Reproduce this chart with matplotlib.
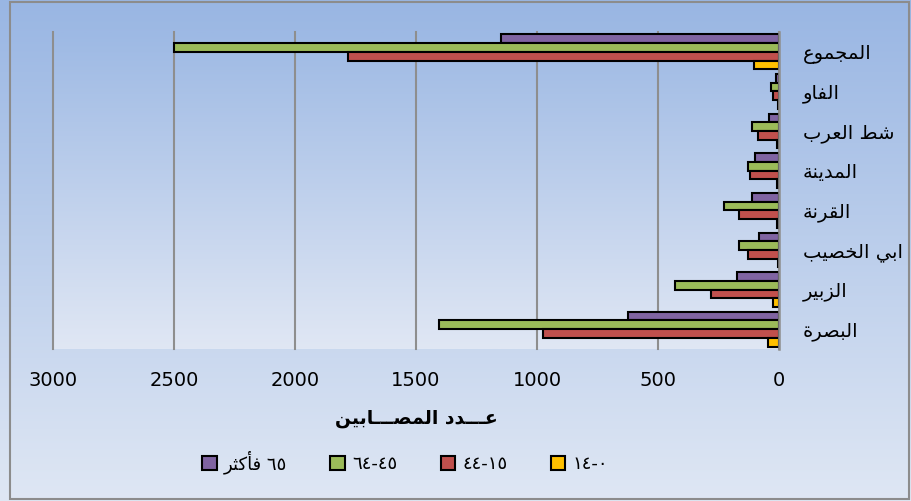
"""Injured counts by district and age group (Basra), horizontal bars, RTL layout."""

import re

import numpy as np
import matplotlib
matplotlib.use("Agg")
import matplotlib.pyplot as plt
from matplotlib.colors import LinearSegmentedColormap
from matplotlib.patches import Rectangle

# ---- data (categories bottom -> top) ----
districts = ["البصرة", "الزبير", "ابي الخصيب", "القرنة", "المدينة", "شط العرب", "الفاو", "المجموع"]
age_65_plus = [625, 175, 81, 113, 100, 41, 12, 1150]
age_45_64 = [1403, 428, 164, 226, 129, 113, 34, 2500]
age_15_44 = [974, 282, 129, 164, 121, 86, 25, 1781]
age_0_14 = [47, 26, 6, 8, 8, 7, 3, 105]
series_labels = ["٦٥ فأكثر", "٤٥-٦٤", "١٥-٤٤", "٠-١٤"]
x_ticks = [0, 500, 1000, 1500, 2000, 2500, 3000]
x_title = "عـــدد المصـــابين"

# ---- minimal arabic shaping (matplotlib has no complex text layout) ----
TATWEEL = "\u0640"


def _forms(start, n):
    return tuple(chr(start + k) for k in range(n))


FORMS = {
    "ا": _forms(0xFE8D, 2), "أ": _forms(0xFE83, 2), "إ": _forms(0xFE87, 2),
    "آ": _forms(0xFE81, 2), "ب": _forms(0xFE8F, 4), "ة": _forms(0xFE93, 2),
    "ت": _forms(0xFE95, 4), "ث": _forms(0xFE99, 4), "ج": _forms(0xFE9D, 4),
    "ح": _forms(0xFEA1, 4), "خ": _forms(0xFEA5, 4), "د": _forms(0xFEA9, 2),
    "ذ": _forms(0xFEAB, 2), "ر": _forms(0xFEAD, 2), "ز": _forms(0xFEAF, 2),
    "س": _forms(0xFEB1, 4), "ش": _forms(0xFEB5, 4), "ص": _forms(0xFEB9, 4),
    "ض": _forms(0xFEBD, 4), "ط": _forms(0xFEC1, 4), "ظ": _forms(0xFEC5, 4),
    "ع": _forms(0xFEC9, 4), "غ": _forms(0xFECD, 4), "ف": _forms(0xFED1, 4),
    "ق": _forms(0xFED5, 4), "ك": _forms(0xFED9, 4), "ل": _forms(0xFEDD, 4),
    "م": _forms(0xFEE1, 4), "ن": _forms(0xFEE5, 4), "ه": _forms(0xFEE9, 4),
    "و": _forms(0xFEED, 2), "ى": _forms(0xFEEF, 2), "ي": _forms(0xFEF1, 4),
}
DUAL = {c for c, f in FORMS.items() if len(f) == 4} | {TATWEEL}


def ar(text):
    """Shape arabic letters and return the string in visual (LTR) order."""
    out = []
    n = len(text)
    for i, c in enumerate(text):
        if c not in FORMS:
            out.append(c)
            continue
        f = FORMS[c]
        prev = i > 0 and text[i - 1] in DUAL
        nxt = len(f) == 4 and i + 1 < n and (text[i + 1] in FORMS or text[i + 1] == TATWEEL)
        if prev and nxt:
            out.append(f[3])
        elif prev:
            out.append(f[1])
        elif nxt:
            out.append(f[2])
        else:
            out.append(f[0])
    shaped = "".join(out)
    runs = re.findall(r"[0-9\u0660-\u0669]+|[^0-9\u0660-\u0669]+", shaped)
    runs = [r if re.match(r"[0-9\u0660-\u0669]", r) else r[::-1] for r in runs]
    return "".join(runs[::-1])


# ---- figure ----
W, H = 912, 501
fig = plt.figure(figsize=(W / 100, H / 100), dpi=100)

grad = np.linspace(0, 1, 256).reshape(-1, 1)
bg = fig.add_axes([0, 0, 1, 1], zorder=-3)
bg.imshow(grad, cmap=LinearSegmentedColormap.from_list("bg", ["#99B6E3", "#DFE7F4"]),
          aspect="auto", extent=[0, 1, 0, 1])
bg.axis("off")

pos = [53 / W, 1 - 349 / H, (779 - 53) / W, (349 - 32) / H]
pa = fig.add_axes(pos, zorder=-2)
pa.imshow(grad, cmap=LinearSegmentedColormap.from_list("pa", ["#9DB9E4", "#E0E7F4"]),
          aspect="auto", extent=[0, 1, 0, 1])
pa.axis("off")

ax = fig.add_axes(pos, zorder=0)
ax.set_facecolor("none")

y = np.arange(len(districts))
h = 0.22
series = [
    (age_65_plus, "#8064A2", 1.5),
    (age_45_64, "#9BBB59", 0.5),
    (age_15_44, "#C0504D", -0.5),
    (age_0_14, "#FFC000", -1.5),
]
handles = []
for vals, color, off in series:
    b = ax.barh(y + off * h, vals, height=h, color=color, edgecolor="black",
                linewidth=1.5, zorder=2)
    handles.append(b)

ax.set_xlim(3000, 0)
ax.set_ylim(-0.5, len(districts) - 0.5)
ax.set_xticks(x_ticks)
ax.set_xticklabels([str(t) for t in x_ticks])
ax.set_axisbelow(True)
ax.xaxis.grid(True, color="#8E8E8E", lw=1.5, clip_on=False)
for s in ["top", "left", "bottom"]:
    ax.spines[s].set_visible(False)
ax.spines["right"].set_color("#8E8E8E")
ax.spines["right"].set_linewidth(1.8)
ax.spines["right"].set_zorder(3)

ax.yaxis.tick_right()
ax.set_yticks(y)
ax.set_yticklabels([ar(d) for d in districts], fontfamily="DejaVu Sans")
ax.tick_params(axis="y", length=0, pad=17, labelsize=14)
ax.tick_params(axis="x", length=0, pad=16, labelsize=14)

fig.text(416 / W, 1 - 418 / H, ar(x_title), ha="center", va="center",
         fontsize=13.5, fontweight="bold", family="DejaVu Sans")

fig.legend(handles, [ar(s) for s in series_labels], loc="center",
           bbox_to_anchor=(405 / W, 1 - 462 / H), ncol=4, frameon=False,
           handlelength=0.8, handleheight=0.8, handletextpad=0.4,
           columnspacing=2.4, prop={"family": "DejaVu Sans", "size": 13})

fig.add_artist(Rectangle((10 / W, 2 / H), (909 - 10) / W, (499 - 2) / H,
                         transform=fig.transFigure, fill=False,
                         ec="#8C8C8C", lw=1.5))

fig.savefig("out.png", dpi=100)
